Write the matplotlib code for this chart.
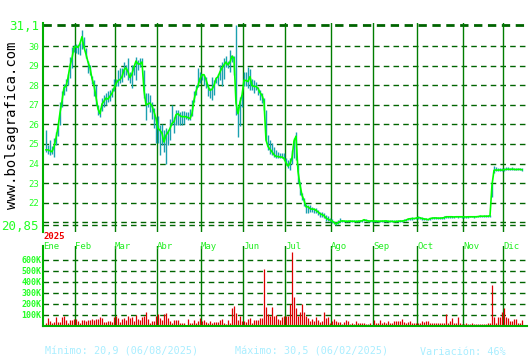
import matplotlib
matplotlib.use("Agg")
import matplotlib.pyplot as plt
import numpy as np

# cotizacion diaria 2025 (cierre, maximo, minimo)
close = [24.7, 24.7, 24.65, 24.6, 24.85, 25.3, 25.85, 26.6, 27.2, 27.9,
         27.95, 28.4, 29.0, 29.4, 29.95, 30.0, 29.95, 30.15, 30.5, 29.95,
         29.6, 29.2, 28.9, 28.35, 28.0, 27.4, 26.8, 26.55, 27.05, 27.2,
         27.35, 27.3, 27.45, 27.6, 27.85, 28.1, 28.25, 28.3, 28.45, 28.8,
         28.9, 28.7, 28.4, 28.6, 28.95, 29.25, 29.1, 29.1, 29.2, 27.75,
         27.0, 27.05, 27.1, 26.95, 26.65, 26.3, 25.8, 25.7, 25.55, 25.1,
         25.45, 25.6, 25.8, 26.05, 26.15, 26.5, 26.55, 26.45, 26.4, 26.4,
         26.4, 26.35, 26.3, 26.55, 27.25, 27.7, 28.0, 28.35, 28.55, 28.55,
         28.3, 27.95, 27.75, 27.8, 28.0, 28.35, 28.45, 28.7, 28.9, 29.05,
         29.2, 29.05, 29.2, 29.5, 29.4, 27.1, 26.55, 27.15, 27.5, 28.27,
         28.25, 28.2, 28.45, 28.0, 27.95, 27.95, 27.85, 27.63, 27.5, 27.17,
         25.2, 24.87, 24.73, 24.6, 24.45, 24.36, 24.36, 24.33, 24.33, 24.26,
         24.04, 23.87, 24.0, 24.3, 25.15, 25.4, 23.6, 22.9, 22.37, 22.12,
         21.78, 21.78, 21.69, 21.66, 21.66, 21.6, 21.52, 21.43, 21.38, 21.33,
         21.2, 21.15, 21.1, 21.05, 20.98, 20.9, 20.97, 21.03, 21.06, 21.05,
         21.04, 21.04, 21.05, 21.04, 21.04, 21.03, 21.04, 21.05, 21.06, 21.12,
         21.08, 21.06, 21.05, 21.06, 21.05, 21.05, 21.04, 21.04, 21.05, 21.05,
         21.06, 21.04, 21.03, 21.04, 21.02, 21.03, 21.04, 21.05, 21.05, 21.06,
         21.1, 21.15, 21.17, 21.18, 21.18, 21.2, 21.23, 21.22, 21.18, 21.16,
         21.15, 21.12, 21.18, 21.2, 21.21, 21.21, 21.2, 21.2, 21.21, 21.22,
         21.27, 21.27, 21.27, 21.27, 21.26, 21.27, 21.27, 21.27, 21.27, 21.27,
         21.26, 21.27, 21.27, 21.27, 21.27, 21.27, 21.28, 21.3, 21.3, 21.3,
         21.3, 21.3, 21.32, 22.9, 23.65, 23.67, 23.66, 23.67, 23.66, 23.68,
         23.7, 23.71, 23.7, 23.71, 23.7, 23.69, 23.7, 23.7, 23.68]

high = [25.7, 24.95, 25.2, 24.9, 25.3, 25.6, 26.0, 27.15, 27.7, 28.05,
        28.35, 28.6, 29.45, 29.95, 30.05, 30.1, 30.05, 30.2, 30.85, 30.5,
        29.9, 29.25, 29.05, 28.5, 28.3, 28.0, 27.0, 26.85, 27.35, 27.5,
        27.6, 27.7, 27.75, 27.85, 28.35, 28.35, 28.8, 28.9, 28.9, 29.2,
        29.05, 29.4, 28.7, 29.05, 29.0, 29.45, 29.3, 29.4, 29.4, 28.8,
        27.6, 27.6, 27.5, 27.15, 26.85, 26.4, 26.45, 25.95, 26.0, 25.7,
        25.8, 25.7, 26.3, 27.0, 26.4, 26.75, 26.75, 26.65, 26.7, 26.7,
        26.65, 26.65, 26.8, 27.25, 27.7, 28.0, 28.9, 28.7, 28.6, 28.55,
        28.45, 28.05, 27.85, 28.45, 28.3, 28.45, 28.6, 29.05, 29.2, 29.4,
        29.5, 29.25, 29.8, 29.55, 29.5, 31.1, 26.95, 27.4, 27.55, 28.7,
        28.7, 28.95, 28.85, 28.35, 28.28, 28.2, 27.94, 27.77, 27.6, 27.34,
        26.74, 25.46, 25.2, 25.03, 24.86, 24.69, 24.6, 24.52, 24.52, 24.52,
        24.26, 24.18, 24.26, 24.69, 25.29, 25.6, 24.0, 23.07, 22.47, 22.21,
        21.95, 21.87, 21.87, 21.78, 21.7, 21.7, 21.61, 21.53, 21.5, 21.44,
        21.35, 21.3, 21.2, 21.15, 21.05, 20.98, 21.1, 21.2, 21.12, 21.1,
        21.12, 21.1, 21.12, 21.1, 21.1, 21.12, 21.1, 21.1, 21.12, 21.15,
        21.14, 21.1, 21.12, 21.12, 21.1, 21.1, 21.12, 21.1, 21.1, 21.12,
        21.1, 21.1, 21.08, 21.1, 21.08, 21.1, 21.12, 21.1, 21.12, 21.14,
        21.16, 21.2, 21.22, 21.24, 21.22, 21.25, 21.3, 21.28, 21.24, 21.22,
        21.2, 21.18, 21.22, 21.26, 21.25, 21.27, 21.25, 21.26, 21.28, 21.3,
        21.31, 21.32, 21.3, 21.31, 21.3, 21.32, 21.3, 21.31, 21.33, 21.3,
        21.3, 21.31, 21.32, 21.3, 21.31, 21.3, 21.33, 21.34, 21.33, 21.35,
        21.34, 21.34, 21.35, 23.0, 23.85, 23.8, 23.76, 23.78, 23.75, 23.78,
        23.8, 23.82, 23.78, 23.8, 23.79, 23.76, 23.79, 23.78, 23.76]

low = [24.6, 24.5, 24.45, 24.5, 24.35, 24.95, 25.4, 25.95, 26.9, 27.5,
       27.7, 28.0, 28.4, 28.9, 29.7, 29.65, 29.6, 29.55, 29.85, 29.9,
       29.4, 28.65, 28.55, 28.05, 27.45, 27.0, 26.5, 26.4, 26.7, 26.9,
       27.0, 27.15, 27.2, 27.4, 27.7, 27.95, 27.95, 28.1, 28.2, 28.45,
       28.55, 28.3, 28.1, 27.85, 28.55, 28.3, 28.8, 28.95, 29.05, 27.35,
       26.25, 26.9, 26.65, 26.3, 25.8, 25.05, 25.05, 24.45, 24.95, 24.6,
       24.0, 24.95, 25.2, 25.95, 25.55, 25.95, 25.95, 25.95, 25.95, 26.0,
       26.3, 26.25, 26.25, 26.45, 27.15, 27.5, 27.9, 28.1, 28.3, 28.0,
       27.85, 27.45, 27.35, 27.25, 27.5, 28.1, 28.0, 28.3, 27.95, 28.35,
       28.95, 28.9, 28.7, 29.2, 28.55, 26.5, 25.35, 25.9, 26.9, 27.95,
       27.95, 27.85, 27.75, 27.75, 27.6, 27.77, 27.51, 27.25, 27.08, 26.74,
       25.2, 24.7, 24.5, 24.43, 24.35, 24.26, 24.26, 24.26, 24.26, 24.2,
       23.92, 23.75, 23.66, 24.0, 24.26, 24.2, 22.98, 22.38, 22.12, 21.8,
       21.44, 21.44, 21.5, 21.53, 21.44, 21.44, 21.36, 21.27, 21.27, 21.2,
       21.05, 21.05, 21.0, 20.95, 20.92, 20.85, 20.9, 20.98, 21.0, 21.0,
       21.0, 21.0, 21.0, 21.0, 21.0, 21.0, 21.0, 21.02, 21.02, 21.05,
       21.03, 21.02, 21.0, 21.02, 21.0, 21.0, 21.0, 21.0, 21.0, 21.02,
       21.02, 21.0, 21.0, 21.0, 20.98, 21.0, 21.0, 21.02, 21.02, 21.03,
       21.06, 21.1, 21.12, 21.12, 21.14, 21.15, 21.18, 21.15, 21.12, 21.12,
       21.1, 21.08, 21.12, 21.15, 21.16, 21.17, 21.15, 21.16, 21.17, 21.18,
       21.22, 21.23, 21.22, 21.23, 21.22, 21.24, 21.23, 21.24, 21.23, 21.22,
       21.22, 21.23, 21.24, 21.24, 21.23, 21.24, 21.25, 21.26, 21.27, 21.26,
       21.27, 21.27, 21.28, 22.3, 23.5, 23.62, 23.62, 23.63, 23.62, 23.64,
       23.65, 23.66, 23.66, 23.67, 23.66, 23.65, 23.66, 23.66, 23.64]

# volumen diario en miles
volume = [30, 75, 45, 25, 40, 80, 40, 40, 80, 90,
          55, 25, 55, 55, 60, 60, 45, 25, 55, 55,
          45, 55, 55, 60, 55, 60, 60, 80, 75, 35,
          35, 45, 45, 40, 80, 90, 75, 40, 60, 70,
          55, 95, 70, 80, 45, 100, 60, 55, 80, 95,
          130, 60, 30, 45, 45, 90, 110, 75, 55, 110,
          115, 75, 45, 30, 55, 55, 55, 30, 30, 30,
          10, 60, 25, 30, 55, 30, 45, 75, 45, 55,
          40, 30, 45, 25, 40, 40, 40, 55, 60, 30,
          15, 55, 25, 160, 185, 120, 55, 95, 45, 45,
          40, 60, 70, 30, 55, 55, 55, 70, 75, 515,
          175, 110,
          90, 175, 90, 100, 60, 55, 80, 90, 90, 90,
          200, 670, 265, 160, 90, 130, 200, 125, 90, 75,
          45, 60, 45, 80, 55, 40, 45, 125, 75, 80,
          25, 45, 60, 45, 40, 40, 15, 40, 55, 45,
          20, 25, 20, 45, 25, 25, 30, 30, 20, 20,
          25, 10, 55, 30, 30, 55, 25, 40, 30, 45,
          30, 30, 45, 45, 45, 45, 60, 40, 30, 40,
          45, 25, 30, 30, 25, 25, 45, 40, 45, 45,
          30, 25, 30, 25, 25, 30, 25, 25, 110, 25,
          45, 75, 25, 30, 80, 25, 15, 15, 30, 15,
          15, 25, 15, 15, 15, 15, 15, 15, 15, 30,
          25, 370, 80, 25, 80, 80, 130, 160, 80, 75,
          45, 45, 60, 60, 30, 30, 55]

months = ["Ene", "Feb", "Mar", "Abr", "May", "Jun", "Jul", "Ago", "Sep", "Oct", "Nov", "Dic"]
month_pos = [-1.5, 14.5, 34.5, 55.5, 77.5, 98.5, 119.5, 142.5, 163.5, 185.5, 208.5, 228.5]
price_ticks = [20.85, 21, 22, 23, 24, 25, 26, 27, 28, 29, 30, 31.1]
price_labels = ["20,85", "", "22", "23", "24", "25", "26", "27", "28", "29", "30", "31,1"]
vol_ticks = [100, 200, 300, 400, 500, 600]
vol_labels = ["100K", "200K", "300K", "400K", "500K", "600K"]

mono = "DejaVu Sans Mono"
green_txt = "#22ee22"
grid_c = "#006400"
vline_c = "#007d00"
spine_c = "#00b000"

W, H = 530, 360
fig = plt.figure(figsize=(W / 100, H / 100), dpi=100)
fig.patch.set_facecolor("white")

idx = np.arange(len(close))

# --- volumen (primero, para que no tape los meses) ---
ax2 = fig.add_axes([43 / W, 1 - 326 / H, 484 / W, 80 / H])
ax2.patch.set_visible(False)
ax2.set_xlim(-1.5, 240.5)
ax2.set_ylim(0, 727)
for v in vol_ticks:
    ax2.axhline(v, color=grid_c, lw=1.0, ls=(0, (4, 3)), zorder=1)
for p in month_pos[1:]:
    ax2.axvline(p, color=vline_c, lw=1.0, zorder=1)
ax2.vlines(idx, 0, volume, color="#dd0000", lw=0.9, zorder=2)
ax2.set_yticks(vol_ticks)
ax2.set_yticklabels(vol_labels)
for t in ax2.get_yticklabels():
    t.set_fontfamily(mono)
    t.set_color("#22ff22")
    t.set_fontsize(6)
    t.set_fontweight("bold")
ax2.tick_params(axis="y", length=0, pad=1)
ax2.set_xticks([])
for s in ["top", "right"]:
    ax2.spines[s].set_visible(False)
ax2.spines["left"].set_color(spine_c)
ax2.spines["left"].set_linewidth(1.5)
ax2.spines["bottom"].set_color(spine_c)
ax2.spines["bottom"].set_linewidth(1.5)

# --- precio ---
ax1 = fig.add_axes([43 / W, 1 - 232 / H, 484 / W, 209 / H])
ax1.patch.set_visible(False)
ax1.set_xlim(-1.5, 240.5)
ax1.set_ylim(20.49, 31.2)
for v in price_ticks:
    if v == 31.1:
        ax1.axhline(v, color=grid_c, lw=2.0, ls=(0, (3, 2)), zorder=1)
    else:
        ax1.axhline(v, color=grid_c, lw=1.0, ls=(0, (4, 3)), zorder=1)
for p in month_pos[1:]:
    ax1.axvline(p, color=vline_c, lw=1.0, zorder=1)
ax1.vlines(idx, low, high, color="#1ba0b0", lw=1.0, zorder=2)
ax1.plot(idx, close, color="#00ff00", lw=1.2, zorder=3)

ax1.set_yticks(price_ticks)
ax1.set_yticklabels(price_labels)
for t, v in zip(ax1.get_yticklabels(), price_ticks):
    t.set_fontfamily(mono)
    t.set_color("#22ff22")
    t.set_fontsize(9 if v in (31.1, 20.85) else 6.5)
ax1.tick_params(axis="y", length=0, pad=3)
ax1.set_xticks(month_pos)
ax1.set_xticklabels(months)
for t in ax1.get_xticklabels():
    t.set_fontfamily(mono)
    t.set_color(green_txt)
    t.set_fontsize(6.5)
    t.set_ha("left")
ax1.tick_params(axis="x", length=0, pad=7)
for s in ["top", "right", "bottom"]:
    ax1.spines[s].set_visible(False)
ax1.spines["left"].set_color(spine_c)
ax1.spines["left"].set_linewidth(1.5)
ax1.text(-1.0, 20.49, "2025", color="#ee0000", fontsize=6.5, family=mono,
         fontweight="bold", va="top", ha="left")

# --- textos ---
fig.text(12 / W, 1 - 125 / H, "www.bolsagrafica.com", rotation=90, family=mono,
         fontsize=10, color="black", ha="center", va="center")
info_c = "#aaeeff"
fig.text(45 / W, 1 - 352 / H, "Mínimo: 20,9 (06/08/2025)", family=mono, fontsize=7.3,
         color=info_c, va="center")
fig.text(235 / W, 1 - 352 / H, "Máximo: 30,5 (06/02/2025)", family=mono, fontsize=7.3,
         color=info_c, va="center")
fig.text(420 / W, 1 - 352 / H, "Variación: 46%", family=mono, fontsize=7.3,
         color=info_c, va="center")

fig.savefig("out.png", dpi=100, facecolor="white")
